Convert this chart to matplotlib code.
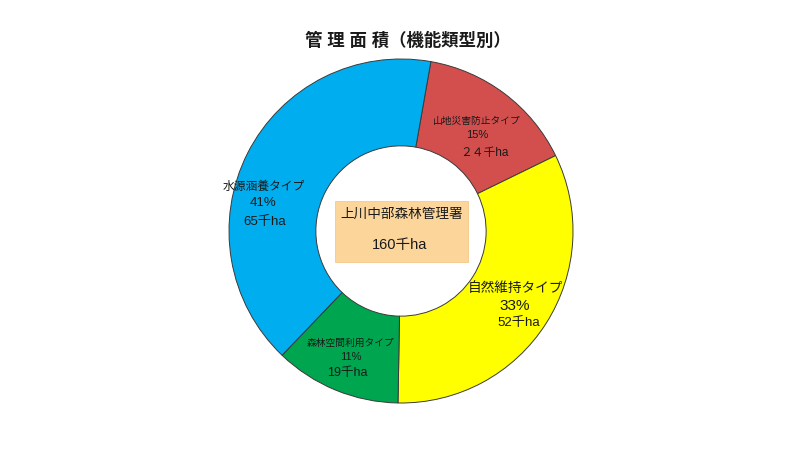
import matplotlib.pyplot as plt
from matplotlib.patches import Rectangle

plt.rcParams['font.family'] = ['Liberation Sans', 'Noto Sans CJK JP', 'DejaVu Sans']

# data
names = ["山地災害防止タイプ", "自然維持タイプ", "森林空間利用タイプ", "水源涵養タイプ"]
area = [24, 52, 19, 65]          # 千ha
pct = ["15%", "33%", "11%", "41%"]
area_txt = ["２４千ha", "52千ha", "19千ha", "65千ha"]
colors = ["#D24F4D", "#FFFF00", "#00A64F", "#00AEEF"]
total_name = "上川中部森林管理署"
total_txt = "160千ha"
title = "管 理 面 積（機能類型別）"

W, H = 800, 450
fig = plt.figure(figsize=(8, 4.5), dpi=100)
ax = fig.add_axes([0, 0, 1, 1])

cx, cy, r = 401, H - 231, 172
ax.pie(area, colors=colors, startangle=80, counterclock=False,
       center=(cx, cy), radius=r, frame=True,
       wedgeprops=dict(width=r * 0.505, edgecolor='#3a3a3a', linewidth=0.7))
ax.set_xlim(0, W)
ax.set_ylim(0, H)
ax.set_aspect('equal')
ax.axis('off')

# label layout (pixel positions from top-left), font sizes
lab_pos = [
    [(477, 121), (477, 135), (484, 153)],
    [(515, 288), (515, 306), (519, 323)],
    [(351, 343), (351, 357), (347, 373)],
    [(264, 187), (263, 203), (265, 222)],
]
lab_size = [(7.0, 8.0, 8.5), (9.8, 11.0, 9.5), (7.0, 8.0, 9.0), (8.5, 9.5, 9.5)]

for i in range(len(names)):
    lines = [names[i], pct[i], area_txt[i]]
    for j, t in enumerate(lines):
        x, y = lab_pos[i][j]
        ax.text(x, H - y, t, ha='center', va='center',
                fontsize=lab_size[i][j], color='#1a1a1a')

# center box
ax.add_patch(Rectangle((335, H - 262), 133, 61, facecolor='#FCD59A',
                       edgecolor='#F5C98A', linewidth=0.6))
ax.text(402, H - 214, total_name, ha='center', va='center',
        fontsize=9.8, color='#1a1a1a')
ax.text(400, H - 245, total_txt, ha='center', va='center',
        fontsize=10.5, color='#1a1a1a')

ax.text(408, H - 40, title, ha='center', va='center',
        fontsize=12.5, fontweight='bold', color='#1a1a1a')

fig.savefig("out.png", dpi=100)
